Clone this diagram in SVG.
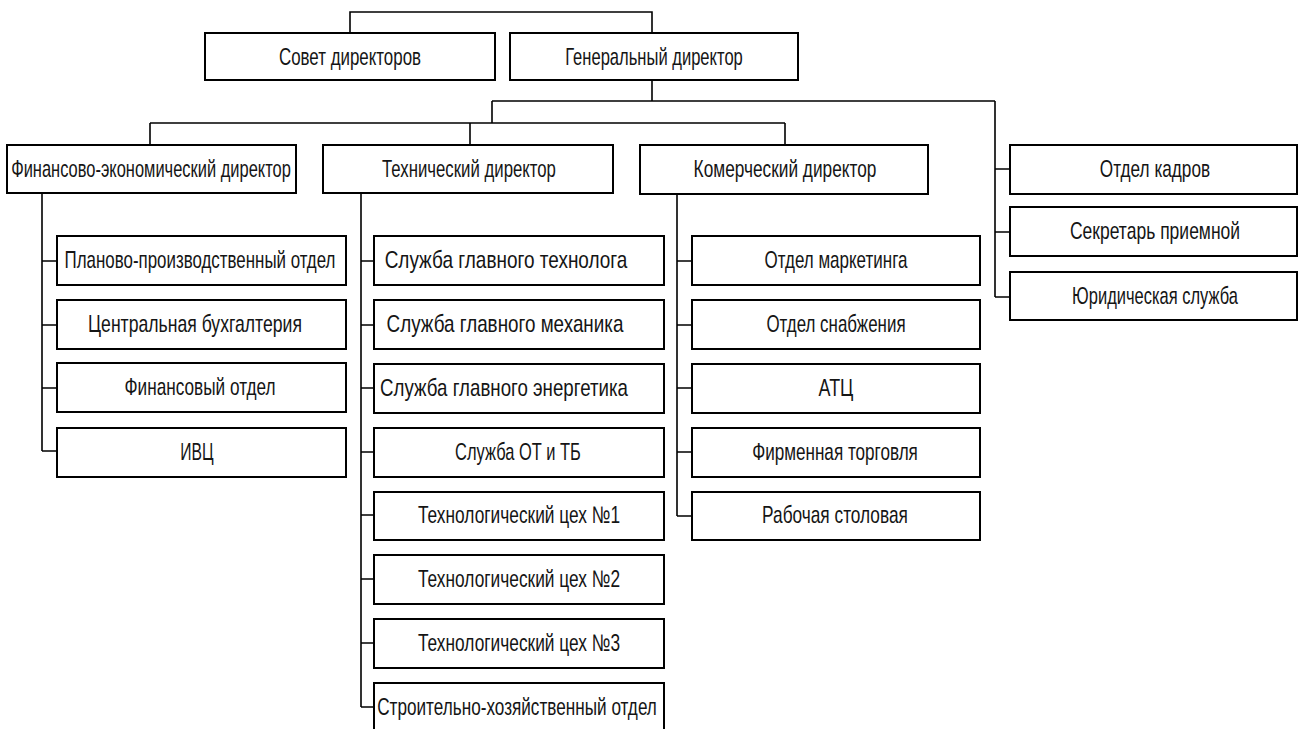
<svg xmlns="http://www.w3.org/2000/svg" width="1301" height="729" viewBox="0 0 1301 729">
<style>
.b{fill:#fff;stroke:#000;stroke-width:2}
.c{fill:none;stroke:#000;stroke-width:1.6}
text{font-family:"Liberation Sans",Arial,sans-serif;font-size:24px;fill:#151515;text-anchor:middle}
</style>
<rect width="1301" height="729" fill="#fff"/>
<g id="connectors" class="c">
<path d="M350,33 V12 H652 V33"/>
<path d="M652,80 V101 M492,101 H995 M492,101 V123 M150,123 H785 M150,123 V145 M470,123 V145 M785,123 V145"/>
<path d="M995,101 V297 M995,169 H1010 M995,232 H1010 M995,297 H1010"/>
<path d="M42,193 V451 M42,261 H57 M42,325 H57 M42,388 H57 M42,451 H57"/>
<path d="M361,193 V707 M361,261 H374 M361,325 H374 M361,388 H374 M361,452 H374 M361,515 H374 M361,579 H374 M361,643 H374 M361,707 H374"/>
<path d="M677,194 V516 M677,261 H692 M677,325 H692 M677,388 H692 M677,452 H692 M677,516 H692"/>
</g>
<g id="sovet"><rect class="b" x="205" y="33" width="290" height="47"/><text transform="translate(350,65) scale(0.74,1)" textLength="192" lengthAdjust="spacingAndGlyphs">Совет директоров</text></g>
<g id="gendir"><rect class="b" x="510" y="33" width="288" height="47"/><text transform="translate(654,65) scale(0.74,1)" textLength="240" lengthAdjust="spacingAndGlyphs">Генеральный директор</text></g>
<g id="findir"><rect class="b" x="7" y="145" width="289" height="48"/><text transform="translate(151,177) scale(0.74,1)" textLength="378" lengthAdjust="spacingAndGlyphs">Финансово-экономический директор</text></g>
<g id="techdir"><rect class="b" x="323" y="145" width="290" height="48"/><text transform="translate(469,177) scale(0.74,1)" textLength="235" lengthAdjust="spacingAndGlyphs">Технический директор</text></g>
<g id="komdir"><rect class="b" x="640" y="145" width="288" height="49"/><text transform="translate(785,177) scale(0.74,1)" textLength="247" lengthAdjust="spacingAndGlyphs">Комерческий директор</text></g>
<g id="kadry"><rect class="b" x="1010" y="145" width="287" height="49"/><text transform="translate(1155,177) scale(0.74,1)" textLength="149" lengthAdjust="spacingAndGlyphs">Отдел кадров</text></g>
<g id="sekretar"><rect class="b" x="1010" y="207" width="287" height="49"/><text transform="translate(1155,239) scale(0.74,1)" textLength="230" lengthAdjust="spacingAndGlyphs">Секретарь приемной</text></g>
<g id="yurid"><rect class="b" x="1010" y="272" width="287" height="48"/><text transform="translate(1155,304) scale(0.74,1)" textLength="224" lengthAdjust="spacingAndGlyphs">Юридическая служба</text></g>
<g id="plan"><rect class="b" x="57" y="236" width="289" height="49"/><text transform="translate(200,268) scale(0.74,1)" textLength="366" lengthAdjust="spacingAndGlyphs">Планово-производственный отдел</text></g>
<g id="buh"><rect class="b" x="57" y="300" width="289" height="49"/><text transform="translate(195,332) scale(0.74,1)" textLength="289" lengthAdjust="spacingAndGlyphs">Центральная бухгалтерия</text></g>
<g id="fin"><rect class="b" x="57" y="363" width="289" height="49"/><text transform="translate(200,395) scale(0.74,1)" textLength="204" lengthAdjust="spacingAndGlyphs">Финансовый отдел</text></g>
<g id="ivc"><rect class="b" x="57" y="428" width="289" height="49"/><text transform="translate(197,460) scale(0.74,1)" textLength="45" lengthAdjust="spacingAndGlyphs">ИВЦ</text></g>
<g id="t1"><rect class="b" x="374" y="236" width="290" height="49"/><text transform="translate(506,268) scale(0.74,1)" textLength="328" lengthAdjust="spacingAndGlyphs">Служба главного технолога</text></g>
<g id="t2"><rect class="b" x="374" y="300" width="290" height="49"/><text transform="translate(505,332) scale(0.74,1)" textLength="320" lengthAdjust="spacingAndGlyphs">Служба главного механика</text></g>
<g id="t3"><rect class="b" x="374" y="364" width="290" height="49"/><text transform="translate(504,396) scale(0.74,1)" textLength="335" lengthAdjust="spacingAndGlyphs">Служба главного энергетика</text></g>
<g id="t4"><rect class="b" x="374" y="428" width="290" height="49"/><text transform="translate(518,460) scale(0.74,1)" textLength="170" lengthAdjust="spacingAndGlyphs">Служба ОТ и ТБ</text></g>
<g id="t5"><rect class="b" x="374" y="492" width="290" height="48"/><text transform="translate(519,523) scale(0.74,1)" textLength="273" lengthAdjust="spacingAndGlyphs">Технологический цех №1</text></g>
<g id="t6"><rect class="b" x="374" y="555" width="290" height="49"/><text transform="translate(519,587) scale(0.74,1)" textLength="273" lengthAdjust="spacingAndGlyphs">Технологический цех №2</text></g>
<g id="t7"><rect class="b" x="374" y="619" width="290" height="49"/><text transform="translate(519,651) scale(0.74,1)" textLength="273" lengthAdjust="spacingAndGlyphs">Технологический цех №3</text></g>
<g id="t8"><rect class="b" x="374" y="683" width="290" height="49"/><text transform="translate(517,715) scale(0.74,1)" textLength="378" lengthAdjust="spacingAndGlyphs">Строительно-хозяйственный отдел</text></g>
<g id="k1"><rect class="b" x="692" y="236" width="288" height="49"/><text transform="translate(836,268) scale(0.74,1)" textLength="193" lengthAdjust="spacingAndGlyphs">Отдел маркетинга</text></g>
<g id="k2"><rect class="b" x="692" y="300" width="288" height="49"/><text transform="translate(836,332) scale(0.74,1)" textLength="188" lengthAdjust="spacingAndGlyphs">Отдел снабжения</text></g>
<g id="k3"><rect class="b" x="692" y="364" width="288" height="49"/><text transform="translate(836,396) scale(0.74,1)" textLength="47" lengthAdjust="spacingAndGlyphs">АТЦ</text></g>
<g id="k4"><rect class="b" x="692" y="428" width="288" height="49"/><text transform="translate(835,460) scale(0.74,1)" textLength="224" lengthAdjust="spacingAndGlyphs">Фирменная торговля</text></g>
<g id="k5"><rect class="b" x="692" y="492" width="288" height="48"/><text transform="translate(835,523) scale(0.74,1)" textLength="197" lengthAdjust="spacingAndGlyphs">Рабочая столовая</text></g>
</svg>
